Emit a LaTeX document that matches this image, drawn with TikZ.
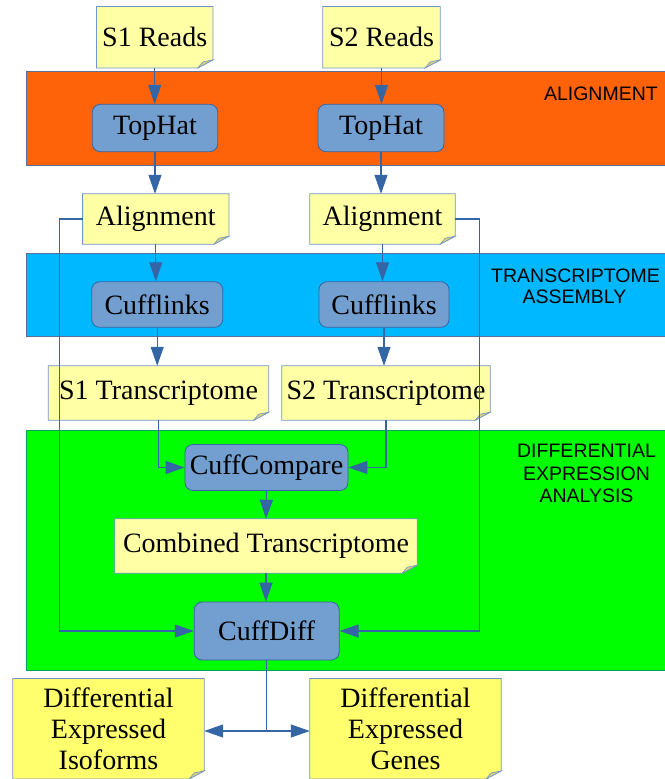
\documentclass[tikz,border=0pt]{standalone}
\usepackage{fontspec}
\setmainfont{Liberation Serif}
\newfontfamily\bandfont{Liberation Sans}
\usetikzlibrary{arrows.meta}
\pgfdeclarelayer{bands}
\pgfdeclarelayer{notebg}
\pgfsetlayers{bands,notebg,main}
\definecolor{orangeband}{HTML}{FF630A}
\definecolor{cyanband}{HTML}{00B8FF}
\definecolor{greenband}{HTML}{00FF00}
\definecolor{bandline}{HTML}{5A6E9E}
\definecolor{paleyellow}{HTML}{FFFFA6}
\definecolor{brightyellow}{HTML}{FFFF6D}
\definecolor{palefold}{HTML}{D8D07E}
\definecolor{brightfold}{HTML}{D2C84E}
\definecolor{noteline}{HTML}{7295C8}
\definecolor{boxfill}{HTML}{729FCF}
\definecolor{boxline}{HTML}{3465A4}
\tikzset{
  notenode/.style={rectangle, inner sep=0pt, align=center, font=\fontsize{28}{31}\selectfont},
  toolbox/.style={rectangle, rounded corners=8pt, fill=boxfill, draw=boxline, line width=0.8pt, inner sep=0pt, font=\fontsize{28}{31}\selectfont},
  band/.style={draw=bandline, line width=0.8pt},
  bandlabel/.style={inner sep=0pt, font=\bandfont\fontsize{19.5}{21.5}\selectfont},
  arr/.style={draw=boxline, line width=1.1pt, -{Triangle[length=19pt,width=13pt]}},
  conn/.style={draw=boxline, line width=1.1pt}
}
\newcommand{\notebox}[2]{%
  \begin{pgfonlayer}{notebg}
    \filldraw[fill=#2, draw=noteline, line width=0.8pt]
      (#1.north west) -- (#1.north east) -- ([yshift=8pt]#1.south east)
      -- ([xshift=-15pt]#1.south east) -- (#1.south west) -- cycle;
    \ifx#2brightyellow
      \filldraw[fill=brightfold, draw=noteline, line width=0.6pt]
        ([xshift=-15pt]#1.south east) -- ([yshift=8pt]#1.south east)
        -- ([xshift=-10pt,yshift=6pt]#1.south east) -- cycle;
    \else
      \filldraw[fill=palefold, draw=noteline, line width=0.6pt]
        ([xshift=-15pt]#1.south east) -- ([yshift=8pt]#1.south east)
        -- ([xshift=-10pt,yshift=6pt]#1.south east) -- cycle;
    \fi
  \end{pgfonlayer}}
\begin{document}
\begin{tikzpicture}[x=1pt, y=-1pt]
\useasboundingbox (0,0) rectangle (664,779);
% bands
\begin{pgfonlayer}{bands}
  \filldraw[band, fill=orangeband] (26.7,71.7) rectangle (670,165);
  \filldraw[band, fill=cyanband] (26.7,253.3) rectangle (670,336.7);
  \filldraw[band, fill=greenband, draw=teal!70!green] (26.7,430) rectangle (670,670.7);
\end{pgfonlayer}
\node[bandlabel, anchor=base east] (lab1) at (658,100.7) {ALIGNMENT};
\node[bandlabel, anchor=base] (lab2a) at (575.5,282) {TRANSCRIPTOME};
\node[bandlabel, anchor=base] (lab2b) at (574.5,303) {ASSEMBLY};
\node[bandlabel, anchor=base] (lab3a) at (586.5,457) {DIFFERENTIAL};
\node[bandlabel, anchor=base] (lab3b) at (586.5,480) {EXPRESSION};
\node[bandlabel, anchor=base] (lab3c) at (586.5,502) {ANALYSIS};
% notes
\node[notenode, minimum width=116pt, minimum height=61pt] (s1r) at (154.7,37.2) {S1 Reads};
\notebox{s1r}{paleyellow}
\node[notenode, minimum width=117pt, minimum height=61pt] (s2r) at (381.5,37.2) {S2 Reads};
\notebox{s2r}{paleyellow}
\node[notenode, minimum width=146pt, minimum height=50pt] (al1) at (155.8,219) {Alignment};
\notebox{al1}{paleyellow}
\node[notenode, minimum width=145pt, minimum height=50pt] (al2) at (382.5,219) {Alignment};
\notebox{al2}{paleyellow}
\node[notenode, minimum width=220pt, minimum height=54pt] (s1t) at (158.5,393) {S1 Transcriptome};
\notebox{s1t}{paleyellow}
\node[notenode, minimum width=208pt, minimum height=54pt] (s2t) at (386,393) {S2 Transcriptome};
\notebox{s2t}{paleyellow}
\node[notenode, minimum width=302pt, minimum height=54pt] (ct) at (266,546) {Combined Transcriptome};
\notebox{ct}{paleyellow}
\node[notenode, minimum width=191pt, minimum height=100pt] (iso) at (108.5,728.7) {Differential\\Expressed\\Isoforms};
\notebox{iso}{brightyellow}
\node[notenode, minimum width=191pt, minimum height=100pt] (gen) at (405.5,728.7) {Differential\\Expressed\\Genes};
\notebox{gen}{brightyellow}
% tools
\node[toolbox, minimum width=125.4pt, minimum height=47.4pt] (th1) at (155,128) {TopHat};
\node[toolbox, minimum width=126pt, minimum height=47.4pt] (th2) at (381,128) {TopHat};
\node[toolbox, minimum width=131pt, minimum height=45.6pt] (cl1) at (157.2,304.5) {Cufflinks};
\node[toolbox, minimum width=130pt, minimum height=45.6pt] (cl2) at (384,304.5) {Cufflinks};
\node[toolbox, minimum width=163pt, minimum height=46pt] (cc) at (266.5,467.5) {CuffCompare};
\node[toolbox, minimum width=145pt, minimum height=58pt] (cd) at (266.7,631) {CuffDiff};
% junction coordinates
\coordinate (jl) at (59.3,219);
\coordinate (jr) at (479.5,219);
\coordinate (jb) at (266.7,731);
% connectors
\draw[arr] (s1r.south) -- (s1r.south |- th1.north);
\draw[arr] (s2r.south) -- (s2r.south |- th2.north);
\draw[arr] (th1.south) -- (th1.south |- al1.north);
\draw[arr] (th2.south) -- (th2.south |- al2.north);
\draw[arr] (al1.south) -- (al1.south |- cl1.north);
\draw[arr] (al2.south) -- (al2.south |- cl2.north);
\draw[arr] (cl1.south) -- (cl1.south |- s1t.north);
\draw[arr] (cl2.south) -- (cl2.south |- s2t.north);
\draw[arr] (s1t.south) |- (cc.west);
\draw[arr] (s2t.south) |- (cc.east);
\draw[arr] (cc.south) -- (ct.north);
\draw[arr] (ct.south) -- (ct.south |- cd.north);
\draw[arr] (al1.west) -- (jl) |- (cd.west);
\draw[arr] (al2.east) -- (jr) |- (cd.east);
\draw[conn] (cd.south) -- (jb);
\draw[arr] (jb) -- (iso.east |- jb);
\draw[arr] (jb) -- (gen.west |- jb);
\end{tikzpicture}
\end{document}
